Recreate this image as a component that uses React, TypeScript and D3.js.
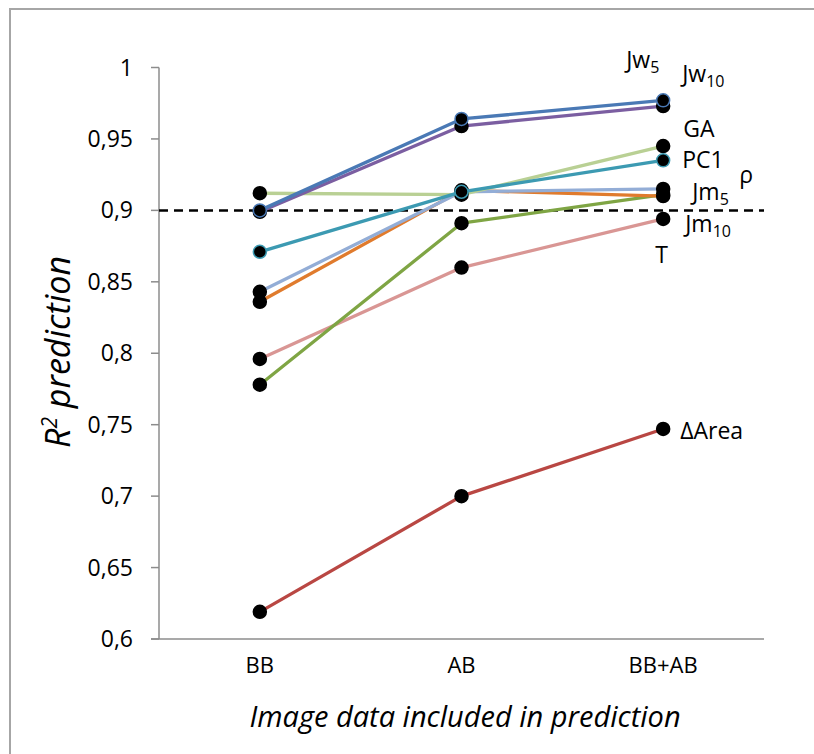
import React from "react";
import * as d3 from "d3";

const categories = ["BB", "AB", "BB+AB"];

const seriesNames = ["ΔArea", "T", "Jm10", "Jm5", "ρ", "GA", "Jw10", "Jw5", "PC1"];
const dAreaValues = [0.619, 0.700, 0.747];
const tValues = [0.796, 0.860, 0.894];
const jm10Values = [0.778, 0.891, 0.911];
const jm5Values = [0.836, 0.914, 0.910];
const rhoValues = [0.843, 0.913, 0.915];
const gaValues = [0.912, 0.911, 0.945];
const jw10Values = [0.899, 0.959, 0.973];
const jw5Values = [0.900, 0.964, 0.977];
const pc1Values = [0.871, 0.913, 0.935];

const yTicks = [0.6, 0.65, 0.7, 0.75, 0.8, 0.85, 0.9, 0.95, 1];
const threshold = 0.9;

// annotation labels: text, subscript, value (y) of baseline
const labelTexts = ["Jw", "Jw", "GA", "PC1", "ρ", "Jm", "Jm", "T", "ΔArea"];
const labelSubs = ["5", "10", "", "", "", "5", "10", "", ""];
const labelValues = [0.9995, 0.9899, 0.9514, 0.9297, 0.9192, 0.9073, 0.8849, 0.8632, 0.74];

const W = 814;
const H = 754;
const plot = { left: 159, right: 764, top: 67.5, bottom: 639 };

export default function App() {
  const x = d3.scaleBand<string>().domain(categories).range([plot.left, plot.right]).padding(0);
  const cx = (c: string) => (x(c) as number) + x.bandwidth() / 2;
  const y = d3.scaleLinear().domain([0.6, 1]).range([plot.bottom, plot.top]);
  const fmt = d3.formatLocale({ decimal: ",", thousands: ".", grouping: [3], currency: ["", ""] }).format("~g");

  const seriesValues = [dAreaValues, tValues, jm10Values, jm5Values, rhoValues, gaValues, jw10Values, jw5Values, pc1Values];
  const colors = ["#B94743", "#D99694", "#7FA544", "#E07B2D", "#93ADD6", "#B9D094", "#7B5EA1", "#4A79B5", "#3C9AB2"];
  const markerStroke = ["#000", "#000", "#000", "#000", "#000", "#000", "#000", "#4A79B5", "#3C9AB2"];

  const line = d3
    .line<number>()
    .x((_, i) => cx(categories[i]))
    .y((d) => y(d));

  const labelDx = [-37, 19, 20, 19, 76, 29, 22, -8, 17];
  const lastX = cx(categories[categories.length - 1]);
  const font = "'Open Sans', sans-serif";

  return (
    <svg width={W} height={H} style={{ position: "absolute", left: 0, top: 0, display: "block", background: "#fff" }}>
      <rect x={10} y={9} width={900} height={900} fill="#fff" stroke="#A6A6A6" strokeWidth={2} />
      {/* y axis */}
      <line x1={plot.left} x2={plot.left} y1={plot.top} y2={plot.bottom} stroke="#8C8C8C" strokeWidth={1.5} />
      {yTicks.map((t) => (
        <g key={t}>
          <line x1={151} x2={plot.left} y1={y(t)} y2={y(t)} stroke="#8C8C8C" strokeWidth={1.5} />
          <text x={133} y={y(t)} dy="0.35em" textAnchor="end" fontFamily={font} fontSize={23} fill="#000">
            {fmt(t)}
          </text>
        </g>
      ))}
      {/* x axis */}
      <line x1={151} x2={plot.right} y1={plot.bottom} y2={plot.bottom} stroke="#8C8C8C" strokeWidth={1.5} />
      {categories.map((c) => (
        <text key={c} x={cx(c)} y={673} textAnchor="middle" fontFamily={font} fontSize={22} fill="#000">
          {c}
        </text>
      ))}
      {/* threshold */}
      <line x1={plot.left} x2={plot.right} y1={y(threshold)} y2={y(threshold)} stroke="#000" strokeWidth={2.5} strokeDasharray="9,6" />
      {/* series */}
      {seriesValues.map((vals, si) => (
        <g key={seriesNames[si]}>
          <path d={line(vals) as string} fill="none" stroke={colors[si]} strokeWidth={3.3} strokeLinejoin="round" />
          {vals.map((v, i) => (
            <circle key={i} cx={cx(categories[i])} cy={y(v)} r={6.5} fill="#000" stroke={markerStroke[si]} strokeWidth={1.5} />
          ))}
        </g>
      ))}
      {/* labels */}
      {labelTexts.map((t, i) => (
        <text key={i} x={lastX + labelDx[i]} y={y(labelValues[i])} fontFamily={font} fontSize={23} fill="#000">
          {t}
          {labelSubs[i] && (
            <tspan fontSize={16} dy={5}>
              {labelSubs[i]}
            </tspan>
          )}
        </text>
      ))}
      {/* axis titles */}
      <text x={465} y={727} textAnchor="middle" fontFamily={font} fontStyle="italic" fontSize={29} fill="#000">
        Image data included in prediction
      </text>
      <text transform="translate(70,352) rotate(-90)" textAnchor="middle" fontFamily={font} fontStyle="italic" fontSize={34} fill="#000">
        R<tspan fontSize={21} dy={-13}>2</tspan>
        <tspan dy={13}> prediction</tspan>
      </text>
    </svg>
  );
}
